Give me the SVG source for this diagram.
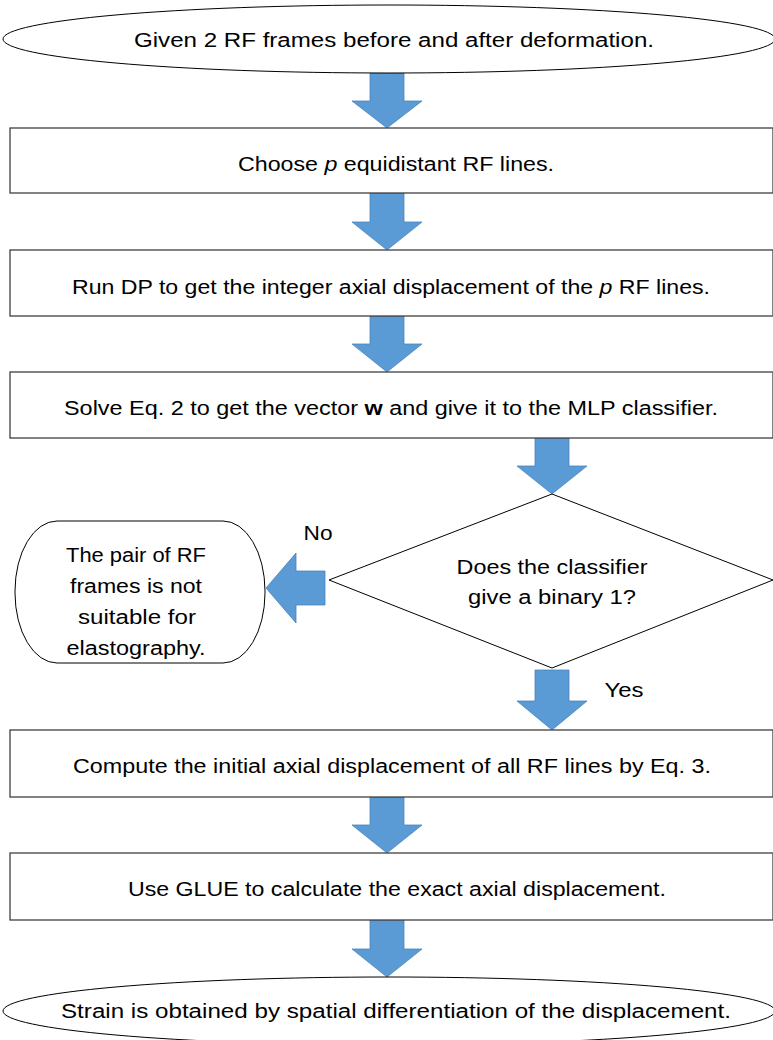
<svg xmlns="http://www.w3.org/2000/svg" width="773" height="1040" viewBox="0 0 773 1040">
<style>
.bg{fill:#ffffff}
.box{fill:#ffffff;stroke:#404040;stroke-width:1.3}
.term{fill:#ffffff;stroke:#000000;stroke-width:1}
.arr{fill:#5B9BD5;stroke:#4A84BA;stroke-width:0.8}
.t{font-family:"Liberation Sans",Arial,sans-serif;font-size:20px;fill:#000000;text-anchor:middle}
</style>
<rect class="bg" x="0" y="0" width="773" height="1040"/>
<g id="connectors">
<path class="arr" d="M370,73 H404 V101 H422 L387,128 L352,101 H370 Z"/>
<path class="arr" d="M370,193 H404 V222 H422 L387,250 L352,222 H370 Z"/>
<path class="arr" d="M370,316 H404 V344 H422 L387,372 L352,344 H370 Z"/>
<path class="arr" d="M535,438 H569 V466 H587 L552,494 L517,466 H535 Z"/>
<path class="arr" d="M535,670 H569 V701 H587 L552,730 L517,701 H535 Z"/>
<path class="arr" d="M370,797 H404 V825 H422 L387,853 L352,825 H370 Z"/>
<path class="arr" d="M370,920 H404 V949 H422 L387,977 L352,949 H370 Z"/>
<path class="arr" d="M325,571 V605 H296 V623 L266,588 L296,553 V571 Z"/>
<text class="t" x="318" y="540" textLength="29" lengthAdjust="spacingAndGlyphs">No</text>
<text class="t" x="624" y="697" textLength="39" lengthAdjust="spacingAndGlyphs">Yes</text>
</g>
<g id="start">
<ellipse class="term" cx="389" cy="39" rx="386" ry="34"/>
<text class="t" x="394" y="47" textLength="520" lengthAdjust="spacingAndGlyphs">Given 2 RF frames before and after deformation.</text>
</g>
<g id="choose">
<rect class="box" x="10" y="128" width="763" height="65"/>
<text class="t" x="396" y="171" textLength="316" lengthAdjust="spacingAndGlyphs">Choose <tspan font-style="italic">p</tspan> equidistant RF lines.</text>
</g>
<g id="rundp">
<rect class="box" x="10" y="250" width="763" height="66"/>
<text class="t" x="391" y="294" textLength="638" lengthAdjust="spacingAndGlyphs">Run DP to get the integer axial displacement of the <tspan font-style="italic">p</tspan> RF lines.</text>
</g>
<g id="solve">
<rect class="box" x="10" y="372" width="763" height="66"/>
<text class="t" x="391" y="415" textLength="654" lengthAdjust="spacingAndGlyphs">Solve Eq. 2 to get the vector <tspan font-weight="bold">w</tspan> and give it to the MLP classifier.</text>
</g>
<g id="decision">
<polygon class="term" points="552,494 773,580 552,668 329,580"/>
<text class="t" x="552" y="574" textLength="191" lengthAdjust="spacingAndGlyphs">Does the classifier</text>
<text class="t" x="552" y="604" textLength="168" lengthAdjust="spacingAndGlyphs">give a binary 1?</text>
</g>
<g id="notsuitable">
<rect class="term" x="15" y="521" width="250" height="142" rx="42" ry="70"/>
<text class="t" x="136" y="562" textLength="140" lengthAdjust="spacingAndGlyphs">The pair of RF</text>
<text class="t" x="136" y="593" textLength="132" lengthAdjust="spacingAndGlyphs">frames is not</text>
<text class="t" x="137" y="624" textLength="118" lengthAdjust="spacingAndGlyphs">suitable for</text>
<text class="t" x="136" y="655" textLength="139" lengthAdjust="spacingAndGlyphs">elastography.</text>
</g>
<g id="compute">
<rect class="box" x="10" y="730" width="763" height="67"/>
<text class="t" x="392" y="773" textLength="638" lengthAdjust="spacingAndGlyphs">Compute the initial axial displacement of all RF lines by Eq. 3.</text>
</g>
<g id="glue">
<rect class="box" x="10" y="853" width="763" height="67"/>
<text class="t" x="397" y="896" textLength="538" lengthAdjust="spacingAndGlyphs">Use GLUE to calculate the exact axial displacement.</text>
</g>
<g id="end">
<ellipse class="term" cx="389" cy="1011" rx="386" ry="34"/>
<text class="t" x="396" y="1018" textLength="670" lengthAdjust="spacingAndGlyphs">Strain is obtained by spatial differentiation of the displacement.</text>
</g>
</svg>
